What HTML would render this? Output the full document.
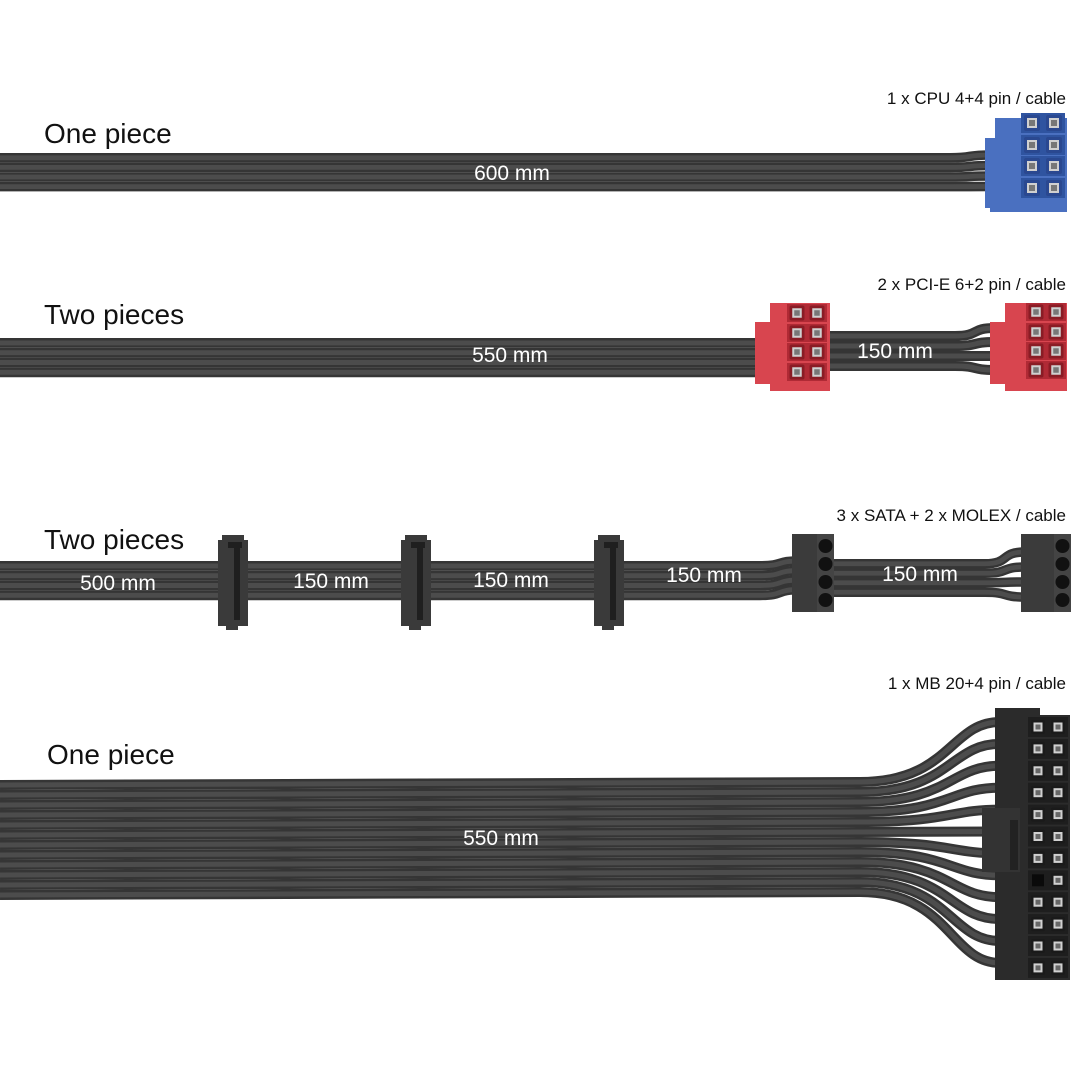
<!DOCTYPE html>
<html><head><meta charset="utf-8"><style>
html,body{margin:0;padding:0;background:#fff;}
svg{display:block;}
.t{font-family:"Liberation Sans",sans-serif;fill:#111;}
.m{font-family:"Liberation Sans",sans-serif;fill:#fff;font-size:21px;}
</style></head><body>
<svg id="s" width="1091" height="1090" viewBox="0 0 1091 1090" xmlns="http://www.w3.org/2000/svg">
<g id="cables"></g>
<g id="conn"></g>
<text class="t" x="44" y="143" font-size="28">One piece</text>
<text class="t" x="44" y="324" font-size="28">Two pieces</text>
<text class="t" x="44" y="549" font-size="28">Two pieces</text>
<text class="t" x="47" y="764" font-size="28">One piece</text>
<text class="t" x="1066" y="104" font-size="17" text-anchor="end">1 x CPU 4+4 pin / cable</text>
<text class="t" x="1066" y="290" font-size="17" text-anchor="end">2 x PCI-E 6+2 pin / cable</text>
<text class="t" x="1066" y="521" font-size="17" text-anchor="end">3 x  SATA + 2 x MOLEX / cable</text>
<text class="t" x="1066" y="689" font-size="17" text-anchor="end">1 x MB 20+4 pin / cable</text>
<g id="labels">
<text class="m" x="512" y="180" text-anchor="middle">600 mm</text>
<text class="m" x="510" y="362" text-anchor="middle">550 mm</text>
<text class="m" x="895" y="358" text-anchor="middle">150 mm</text>
<text class="m" x="118" y="590" text-anchor="middle">500 mm</text>
<text class="m" x="331" y="588" text-anchor="middle">150 mm</text>
<text class="m" x="511" y="587" text-anchor="middle">150 mm</text>
<text class="m" x="704" y="582" text-anchor="middle">150 mm</text>
<text class="m" x="920" y="581" text-anchor="middle">150 mm</text>
<text class="m" x="501" y="845" text-anchor="middle">550 mm</text>
</g>
</svg>
<script>
var NS="http://www.w3.org/2000/svg";
var cab=document.getElementById('cables'),con=document.getElementById('conn');
function el(p,tag,a){var e=document.createElementNS(NS,tag);for(var k in a)e.setAttribute(k,a[k]);p.appendChild(e);return e;}
function wire(d,w){el(cab,'path',{d:d,stroke:'#353535',"stroke-width":w,fill:'none'});
 el(cab,'path',{d:d,stroke:'#4c4c4c',"stroke-width":w*0.5,fill:'none'});}
function straight(x1,x2,y0,n,h,ty0,th){
 for(var i=0;i<n;i++){var y=y0+h/2+i*h;var ty=ty0!==undefined?ty0+i*th:y;
  var d='M'+x1+','+y+' L'+(x2-40)+','+y+' C'+(x2-15)+','+y+' '+(x2-25)+','+ty+' '+x2+','+ty;
  wire(d,h);}}
straight(0,990,153,4,9.6,155,10.5);
straight(0,760,338,4,9.8);
straight(830,995,331,4,10,328,14);
straight(0,800,561,4,9.8,561,9.5);
straight(830,1025,559,4,9.5,552,15);
for(var i=0;i<12;i++){var y=785+i*10;var ty=722+i*21.9;
 var d='M0,'+y+' L860,'+(y-3)+' C950,'+(y-3)+' 950,'+ty+' 1000,'+ty;wire(d,10);}
function pin(x,y,s,c,fill){el(con,'rect',{x:x-s/2,y:y-s/2,width:s,height:s,fill:c,rx:2});
 el(con,'rect',{x:x-s/4-1,y:y-s/4-1,width:s/2+2,height:s/2+2,fill:'#d0d0d0'});
 el(con,'rect',{x:x-s/4+1,y:y-s/4+1,width:s/2-2,height:s/2-2,fill:fill||'#777'});}
function box(x,y,w,h,c){return el(con,'rect',{x:x,y:y,width:w,height:h,fill:c});}
var B='#4a70c0',BD='#2f54a0';
box(995,118,72,92,B);box(985,138,30,70,B);box(990,200,77,12,B);
[123,145,166,188].forEach(function(y){[1032,1054].forEach(function(x){box(x-11,y-10,22,20,BD);pin(x,y,16,'#2a4890');});});
var R='#d8454f',RD='#b02a35';
function pcie(x0,cols,rows,xe){box(x0+15,303,xe-x0-15,88,R);box(x0,322,35,62,R);
 rows.forEach(function(y){cols.forEach(function(x){box(x-10,y-9,20,18,RD);pin(x,y,15,'#8a1c25');});});}
pcie(755,[797,817],[313,333,352,372],830);
pcie(990,[1036,1056],[312,332,351,370],1067);
function sata(x){box(x,540,30,86,'#3a3a3a');box(x+4,535,22,6,'#3a3a3a');box(x+8,625,12,5,'#3a3a3a');
 box(x+16,546,6,74,'#1f1f1f');box(x+10,542,14,6,'#1f1f1f');}
sata(218);sata(401);sata(594);
function molex(x,w){box(x,534,w,78,'#3b3b3b');box(x+w-17,534,17,78,'#444');
 for(var i=0;i<4;i++)el(con,'circle',{cx:x+w-8.5,cy:546+i*18,r:7,fill:'#111'});}
molex(792,42);molex(1021,50);
var K='#2b2b2b';
box(995,708,45,272,K);box(1020,715,50,265,K);box(982,808,38,64,'#333');box(1010,820,8,50,'#222');
for(var r=0;r<12;r++){var y=727+r*21.9;[1038,1058].forEach(function(x,ci){box(x-10,y-10,20,20,'#1e1e1e');
 if(r==7&&ci==0){el(con,'rect',{x:x-6,y:y-6,width:12,height:12,fill:'#0a0a0a'});}else pin(x,y,14,'#1a1a1a','#666');});}
</script>
</body></html>
